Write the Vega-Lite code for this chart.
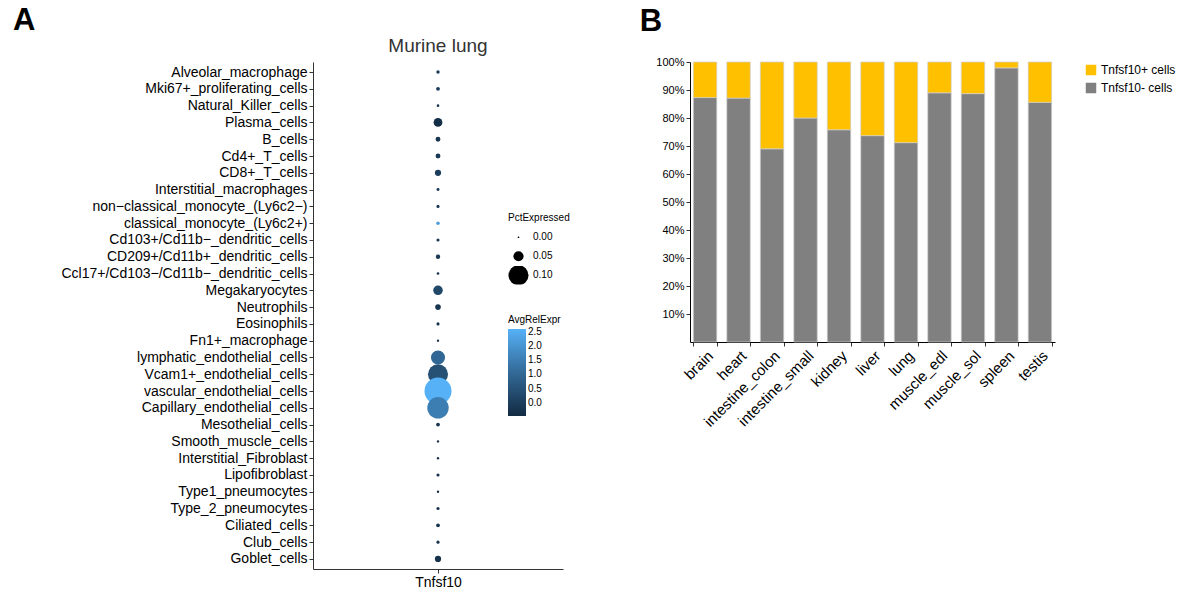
{
  "$schema": "https://vega.github.io/schema/vega-lite/v6.json",
  "padding": {"left": 12, "top": 5, "right": 5, "bottom": 5},
  "background": "white",
  "config": {
    "font": "Liberation Sans",
    "view": {"stroke": null},
    "axis": {"grid": false, "domainColor": "#333", "tickColor": "#333", "labelColor": "#000", "tickSize": 4, "title": null}
  },
  "spacing": 76,
  "datasets": {
    "dots": [
      {"cell": "Alveolar_macrophage", "gene": "Tnfsf10", "pct": 0.015, "avg": 0.0},
      {"cell": "Mki67+_proliferating_cells", "gene": "Tnfsf10", "pct": 0.017, "avg": 0.0},
      {"cell": "Natural_Killer_cells", "gene": "Tnfsf10", "pct": 0.01, "avg": -0.2},
      {"cell": "Plasma_cells", "gene": "Tnfsf10", "pct": 0.043, "avg": -0.4},
      {"cell": "B_cells", "gene": "Tnfsf10", "pct": 0.023, "avg": -0.2},
      {"cell": "Cd4+_T_cells", "gene": "Tnfsf10", "pct": 0.023, "avg": -0.1},
      {"cell": "CD8+_T_cells", "gene": "Tnfsf10", "pct": 0.03, "avg": 0.0},
      {"cell": "Interstitial_macrophages", "gene": "Tnfsf10", "pct": 0.012, "avg": -0.2},
      {"cell": "non−classical_monocyte_(Ly6c2−)", "gene": "Tnfsf10", "pct": 0.013, "avg": -0.2},
      {"cell": "classical_monocyte_(Ly6c2+)", "gene": "Tnfsf10", "pct": 0.015, "avg": 2.2},
      {"cell": "Cd103+/Cd11b−_dendritic_cells", "gene": "Tnfsf10", "pct": 0.013, "avg": -0.2},
      {"cell": "CD209+/Cd11b+_dendritic_cells", "gene": "Tnfsf10", "pct": 0.02, "avg": -0.1},
      {"cell": "Ccl17+/Cd103−/Cd11b−_dendritic_cells", "gene": "Tnfsf10", "pct": 0.01, "avg": -0.3},
      {"cell": "Megakaryocytes", "gene": "Tnfsf10", "pct": 0.047, "avg": 0.25},
      {"cell": "Neutrophils", "gene": "Tnfsf10", "pct": 0.027, "avg": -0.2},
      {"cell": "Eosinophils", "gene": "Tnfsf10", "pct": 0.013, "avg": -0.3},
      {"cell": "Fn1+_macrophage", "gene": "Tnfsf10", "pct": 0.008, "avg": -0.35},
      {"cell": "lymphatic_endothelial_cells", "gene": "Tnfsf10", "pct": 0.07, "avg": 1.0},
      {"cell": "Vcam1+_endothelial_cells", "gene": "Tnfsf10", "pct": 0.1, "avg": 0.45},
      {"cell": "vascular_endothelial_cells", "gene": "Tnfsf10", "pct": 0.135, "avg": 2.6},
      {"cell": "Capillary_endothelial_cells", "gene": "Tnfsf10", "pct": 0.107, "avg": 1.5},
      {"cell": "Mesothelial_cells", "gene": "Tnfsf10", "pct": 0.017, "avg": -0.2},
      {"cell": "Smooth_muscle_cells", "gene": "Tnfsf10", "pct": 0.008, "avg": -0.4},
      {"cell": "Interstitial_Fibroblast", "gene": "Tnfsf10", "pct": 0.008, "avg": -0.4},
      {"cell": "Lipofibroblast", "gene": "Tnfsf10", "pct": 0.013, "avg": -0.3},
      {"cell": "Type1_pneumocytes", "gene": "Tnfsf10", "pct": 0.008, "avg": -0.4},
      {"cell": "Type_2_pneumocytes", "gene": "Tnfsf10", "pct": 0.013, "avg": -0.3},
      {"cell": "Ciliated_cells", "gene": "Tnfsf10", "pct": 0.017, "avg": -0.2},
      {"cell": "Club_cells", "gene": "Tnfsf10", "pct": 0.013, "avg": -0.3},
      {"cell": "Goblet_cells", "gene": "Tnfsf10", "pct": 0.03, "avg": -0.3}
    ],
    "bars": [
      {"tissue": "brain", "type": "Tnfsf10- cells", "value": 87.3},
      {"tissue": "brain", "type": "Tnfsf10+ cells", "value": 12.7},
      {"tissue": "heart", "type": "Tnfsf10- cells", "value": 87.1},
      {"tissue": "heart", "type": "Tnfsf10+ cells", "value": 12.9},
      {"tissue": "intestine_colon", "type": "Tnfsf10- cells", "value": 69.0},
      {"tissue": "intestine_colon", "type": "Tnfsf10+ cells", "value": 31.0},
      {"tissue": "intestine_small", "type": "Tnfsf10- cells", "value": 80.0},
      {"tissue": "intestine_small", "type": "Tnfsf10+ cells", "value": 20.0},
      {"tissue": "kidney", "type": "Tnfsf10- cells", "value": 75.8},
      {"tissue": "kidney", "type": "Tnfsf10+ cells", "value": 24.2},
      {"tissue": "liver", "type": "Tnfsf10- cells", "value": 73.7},
      {"tissue": "liver", "type": "Tnfsf10+ cells", "value": 26.3},
      {"tissue": "lung", "type": "Tnfsf10- cells", "value": 71.2},
      {"tissue": "lung", "type": "Tnfsf10+ cells", "value": 28.8},
      {"tissue": "muscle_edl", "type": "Tnfsf10- cells", "value": 89.0},
      {"tissue": "muscle_edl", "type": "Tnfsf10+ cells", "value": 11.0},
      {"tissue": "muscle_sol", "type": "Tnfsf10- cells", "value": 88.7},
      {"tissue": "muscle_sol", "type": "Tnfsf10+ cells", "value": 11.3},
      {"tissue": "spleen", "type": "Tnfsf10- cells", "value": 97.9},
      {"tissue": "spleen", "type": "Tnfsf10+ cells", "value": 2.1},
      {"tissue": "testis", "type": "Tnfsf10- cells", "value": 85.6},
      {"tissue": "testis", "type": "Tnfsf10+ cells", "value": 14.4}
    ]
  },
  "hconcat": [
    {
      "title": {"text": "A", "anchor": "start", "frame": "bounds", "fontSize": 31, "fontWeight": "bold", "color": "#000", "dx": -48, "offset": 0},
      "vconcat": [
        {
          "title": {"text": "Murine lung", "fontSize": 19, "fontWeight": "normal", "color": "#333", "anchor": "middle", "frame": "group", "offset": 6},
          "width": 250,
          "height": 507,
          "data": {"name": "dots"},
          "mark": {"type": "circle", "opacity": 1},
          "encoding": {
            "x": {"field": "gene", "type": "nominal", "scale": {"type": "point", "padding": 0.5},
              "axis": {"labelAngle": 0, "labelFontSize": 14, "labelPadding": 2}},
            "y": {"field": "cell", "type": "nominal", "sort": null, "scale": {"type": "point", "padding": 0.6},
              "axis": {"labelFontSize": 14, "labelPadding": 2, "labelLimit": 400}},
            "size": {"field": "pct", "type": "quantitative", "title": "PctExpressed",
              "scale": {"type": "pow", "exponent": 2, "domain": [0, 0.135], "range": [3, 729], "zero": false},
              "legend": {"orient": "none", "legendX": 195, "legendY": 151, "values": [0, 0.05, 0.1], "format": ".2f",
                "symbolFillColor": "#000", "symbolStrokeWidth": 0, "titleFontSize": 10, "titleFontWeight": "normal", "labelFontSize": 10, "titlePadding": 5, "clipHeight": 18.5, "rowPadding": 0}},
            "color": {"field": "avg", "type": "quantitative", "title": "AvgRelExpr",
              "scale": {"domain": [-0.47, 2.6], "range": ["#132B43", "#56B1F7"], "interpolate": "lab"},
              "legend": {"orient": "none", "legendX": 195, "legendY": 253, "values": [0, 0.5, 1, 1.5, 2, 2.5], "format": ".1f",
                "gradientLength": 87, "gradientThickness": 18, "titleFontSize": 10, "titleFontWeight": "normal", "labelFontSize": 10, "gradientStrokeWidth": 0, "titlePadding": 4}}
          }
        }
      ]
    },
    {
      "title": {"text": "B", "anchor": "start", "frame": "bounds", "fontSize": 31, "fontWeight": "bold", "color": "#000", "dx": -16, "dy": -10, "offset": 8},
      "vconcat": [
        {
          "width": 365,
          "height": 280,
          "data": {"name": "bars"},
          "mark": {"type": "bar", "stroke": "#cfcfcf", "strokeWidth": 0.7},
          "encoding": {
            "x": {"field": "tissue", "type": "nominal", "sort": null,
              "scale": {"paddingInner": 0.3, "paddingOuter": 0.1},
              "axis": {"labelAngle": -45, "labelFontSize": 15, "tickBand": "extent", "labelPadding": 2, "domainColor": "#000"}},
            "y": {"field": "value", "type": "quantitative", "stack": "zero",
              "scale": {"domain": [0, 100], "nice": false},
              "axis": {"values": [10, 20, 30, 40, 50, 60, 70, 80, 90, 100], "labelExpr": "datum.value + '%'", "labelFontSize": 11, "domainColor": "#000"}},
            "color": {"field": "type", "type": "nominal",
              "scale": {"domain": ["Tnfsf10+ cells", "Tnfsf10- cells"], "range": ["#FFC000", "#808080"]},
              "legend": {"orient": "none", "legendX": 395, "legendY": 2, "title": null, "symbolType": "square", "symbolSize": 110, "symbolStrokeWidth": 0, "labelFontSize": 12, "rowPadding": 6}},
            "order": {"field": "type", "sort": "descending"}
          }
        }
      ]
    }
  ]
}
